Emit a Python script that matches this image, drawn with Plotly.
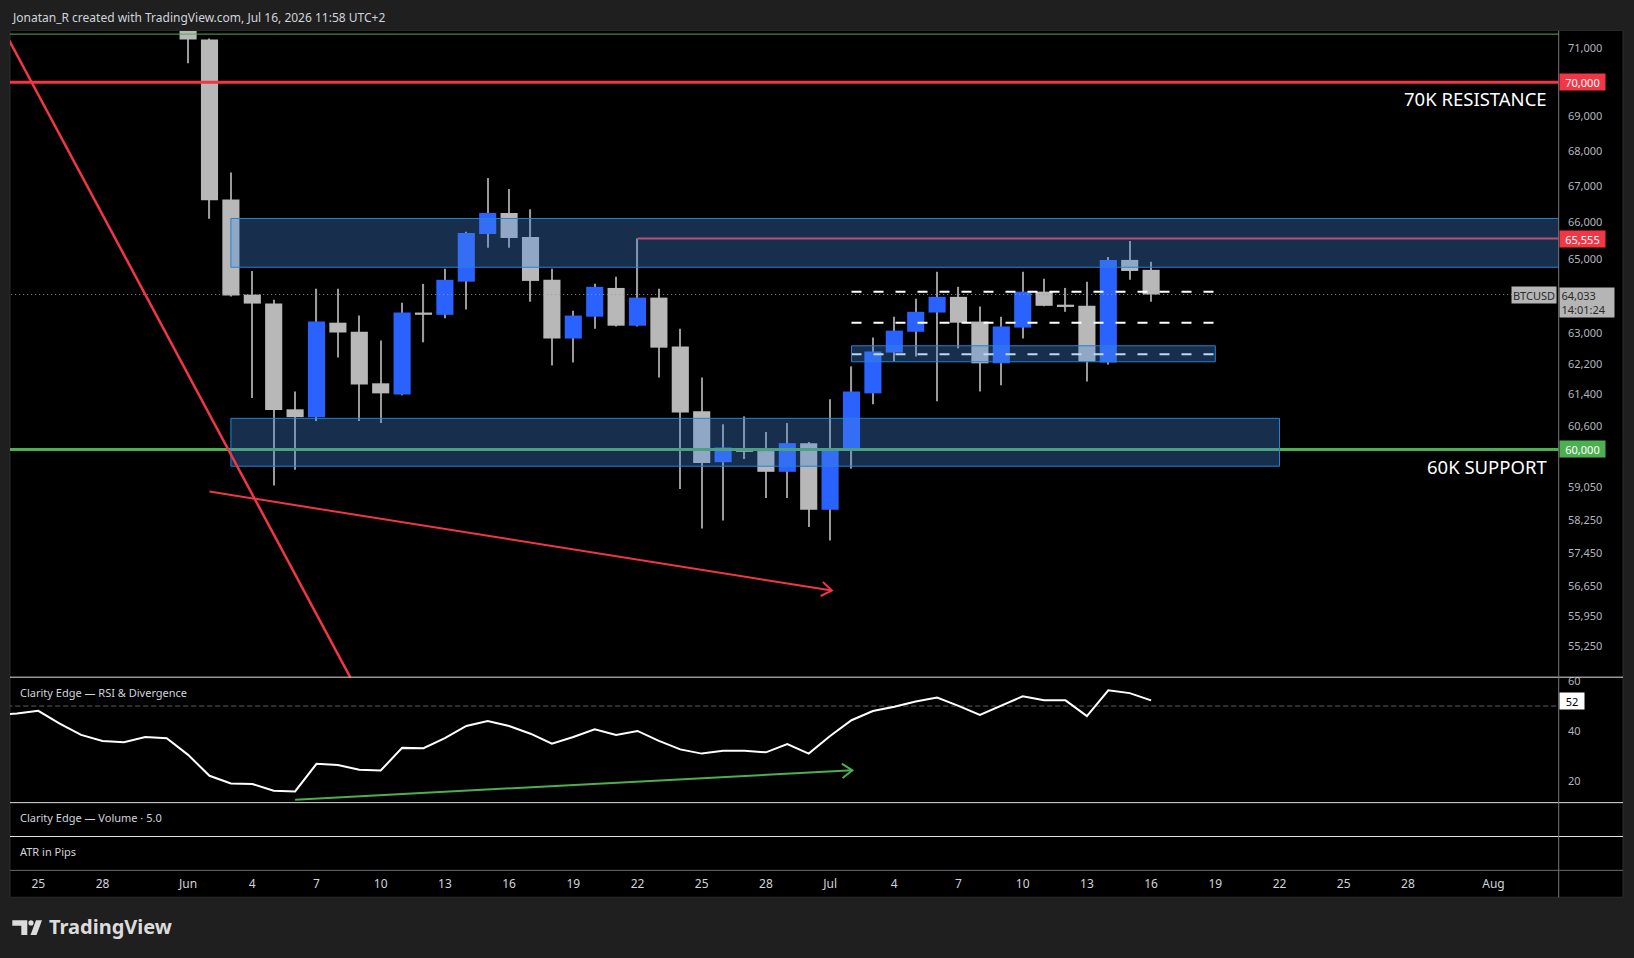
import numpy as np
import pandas as pd
import plotly.graph_objects as go

W, H = 1634, 958

# ---------------- data ----------------
candle_dates = pd.date_range("2026-06-01", "2026-07-16", freq="D")
opens = [71900, 71270, 66640, 64030, 63790, 61020, 60820, 63280, 63040, 61690,
         61400, 63550, 63490, 64380, 65680, 66260, 65600, 64430, 62860, 63440,
         64210, 63200, 63950, 62650, 60970, 59680, 59990, 59960, 59440, 60160,
         58500, 60030, 61430, 62490, 63040, 63550, 63970, 63310, 62210, 63150,
         64110, 63760, 63730, 62230, 64970, 64700]
highs = [72100, 71300, 67400, 64670, 63890, 61480, 64190, 64190, 63470, 62810,
         63810, 64320, 64730, 65740, 67240, 66930, 66370, 64730, 63600, 64320,
         64510, 65555, 64190, 63120, 61840, 60640, 60840, 60440, 60670, 60190,
         61280, 62130, 62890, 63440, 63920, 64650, 64240, 63710, 63440, 64650,
         64460, 64210, 64380, 65050, 65490, 64920]
lows = [70560, 66100, 63980, 61310, 59100, 59490, 60720, 62360, 60720, 60670,
        61380, 62760, 63400, 63630, 65300, 65300, 63840, 62150, 62230, 63120,
        63180, 63180, 61840, 59010, 58040, 58240, 59760, 58790, 58790, 58080,
        57750, 59520, 61150, 62260, 62390, 61230, 62600, 61480, 61640, 62860,
        63720, 63570, 61740, 62180, 64430, 63840]
closes = [71270, 66620, 64010, 63790, 61000, 60820, 63310, 63020, 61660, 61430,
          63550, 63490, 64430, 65710, 66260, 65570, 64400, 62860, 63470, 64240,
          63200, 63950, 62620, 60940, 59660, 60050, 59960, 59440, 60160, 58500,
          59960, 61480, 62520, 63070, 63570, 63970, 63280, 62210, 63180, 64110,
          63730, 63700, 62260, 64970, 64670, 64033]

rsi_dates = pd.date_range("2026-05-23", "2026-07-16", freq="D")
rsi_values = [46.5, 47.0, 48.1, 42.9, 38.4, 36.0, 35.5, 37.6, 37.1,
              30.4, 22.0, 18.9, 18.7, 16.0, 15.7, 26.8, 26.3, 24.4, 24.1,
              33.2, 33.1, 37.1, 42.0, 44.0, 42.0, 38.9, 34.9, 37.6, 40.7,
              38.4, 40.0, 36.0, 32.6, 30.9, 32.0, 32.0, 31.4, 34.7, 30.9,
              38.0, 44.3, 48.0, 49.7, 51.8, 53.4, 50.1, 46.4, 50.3, 53.9,
              52.3, 52.3, 46.0, 56.3, 55.2, 52.3]
rsi_last = 52

price_ticks = [71000, 69000, 68000, 67000, 66000, 65000, 63000,
               62200, 61400, 60600, 59050, 58250, 57450, 56650, 55950, 55250]
rsi_ticks = [20, 40, 60]
time_tick_dates = ["2026-05-25", "2026-05-28", "2026-06-01", "2026-06-04", "2026-06-07",
                   "2026-06-10", "2026-06-13", "2026-06-16", "2026-06-19", "2026-06-22",
                   "2026-06-25", "2026-06-28", "2026-07-01", "2026-07-04", "2026-07-07",
                   "2026-07-10", "2026-07-13", "2026-07-16", "2026-07-19", "2026-07-22",
                   "2026-07-25", "2026-07-28", "2026-08-01"]
time_tick_labels = ["25", "28", "Jun", "4", "7", "10", "13", "16", "19", "22", "25", "28",
                    "Jul", "4", "7", "10", "13", "16", "19", "22", "25", "28", "Aug"]

resistance = 70000
support = 60000
top_level = 71430
swing_high = 65555
swing_high_date = "2026-06-22"
last_price = 64033
last_time = "14:01:24"
symbol = "BTCUSD"

upper_zone = dict(d0="2026-06-03", d1="2026-08-10", lo=64770, hi=66110)
lower_zone = dict(d0="2026-06-03", d1="2026-07-22", lo=59580, hi=60790)
inner_zone = dict(d0="2026-07-02", d1="2026-07-19", lo=62250, hi=62670)
dashed_levels = [64110, 63280, 62450]
dashed_span = ("2026-07-02", "2026-07-19")

steep_trend = [("2026-05-23 00:00", 72010), ("2026-06-09 12:00", 53690)]
down_arrow = [("2026-06-02 00:00", 58950), ("2026-07-01 02:00", 56550)]
rsi_div_arrow = [("2026-06-06 00:00", 12.4), ("2026-07-02 01:00", 24.2)]

# ---------------- geometry of the panes ----------------
X_LEFT, X_RIGHT, PANEL_RIGHT = 10.0, 1558.7, 1623.0
P_TOP, P_BOT = 27.0, 676.0
R_TOP, R_BOT = 676.0, 802.0
V_BOT, A_BOT, T_BOT = 836.0, 870.0, 897.0
EPOCH = pd.Timestamp("2026-05-25")
PX_PER_DAY = 21.4
x_start = EPOCH + pd.Timedelta(days=(X_LEFT - 38.3) / PX_PER_DAY)
x_end = EPOCH + pd.Timedelta(days=(X_RIGHT - 38.3) / PX_PER_DAY)
price_range = [54530, 71527]
rsi_range = [11.2, 61.6]
DAY_MS = 86400000

BLUE = "#2962ff"
GRAY = "#b8b8b8"
WICK = "#9a9a9a"
RED = "#f23645"
GREEN = "#4caf50"
ZONE_FILL = "rgba(71,135,226,0.34)"
ZONE_LINE = "#2184d6"
FONT = "Noto Sans"


def px_of(d, v, pane):
    t = (pd.Timestamp(d) - x_start) / (x_end - x_start)
    px = X_LEFT + t * (X_RIGHT - X_LEFT)
    if pane == "price":
        lo, hi = np.log10(price_range)
        f = (np.log10(v) - lo) / (hi - lo)
        top, bot = P_TOP, P_BOT
    else:
        lo, hi = rsi_range
        f = (v - lo) / (hi - lo)
        top, bot = R_TOP, R_BOT
    return px, bot - f * (bot - top)


def data_of(px, py_, pane):
    t = (px - X_LEFT) / (X_RIGHT - X_LEFT)
    d = x_start + (x_end - x_start) * t
    if pane == "price":
        lo, hi = np.log10(price_range)
        f = (P_BOT - py_) / (P_BOT - P_TOP)
        v = 10 ** (lo + f * (hi - lo))
    else:
        lo, hi = rsi_range
        f = (R_BOT - py_) / (R_BOT - R_TOP)
        v = lo + f * (hi - lo)
    return d, v


def chevron(p0, p1, pane, length=12.5, ang=35):
    x0, y0 = px_of(*p0, pane)
    x1, y1 = px_of(*p1, pane)
    n = np.hypot(x1 - x0, y1 - y0)
    ux, uy = (x1 - x0) / n, (y1 - y0) / n
    pts = []
    for s in (1, -1):
        a = np.radians(ang) * s
        rx = -ux * np.cos(a) + uy * np.sin(a)
        ry = -ux * np.sin(a) - uy * np.cos(a)
        pts.append(data_of(x1 + length * rx, y1 + length * ry, pane))
    xs = [pts[0][0], pd.Timestamp(p1[0]), pts[1][0]]
    ys = [pts[0][1], p1[1], pts[1][1]]
    return xs, ys


fig = go.Figure()

# ---------------- candles ----------------
up = [c > o for o, c in zip(opens, closes)]
body_colors = [BLUE if u else GRAY for u in up]
body_base = [min(o, c) for o, c in zip(opens, closes)]
body_len = [abs(c - o) for o, c in zip(opens, closes)]
wick_len = [h - l for h, l in zip(highs, lows)]

fig.add_trace(go.Bar(x=candle_dates, y=wick_len, base=lows, width=DAY_MS * 0.055,
                     marker=dict(color=WICK, line=dict(width=0)),
                     xaxis="x", yaxis="y", hoverinfo="skip", showlegend=False))
fig.add_trace(go.Bar(x=candle_dates, y=body_len, base=body_base, width=DAY_MS * 0.8,
                     marker=dict(color=body_colors, line=dict(width=0)),
                     xaxis="x", yaxis="y", hoverinfo="skip", showlegend=False))

far_left = x_start - pd.Timedelta(days=2)
far_right = x_end + pd.Timedelta(days=2)


def level(price, d0, d1, color, width, dash="solid"):
    fig.add_trace(go.Scatter(x=[d0, d1], y=[price, price], mode="lines",
                             line=dict(color=color, width=width, dash=dash),
                             xaxis="x", yaxis="y", hoverinfo="skip", showlegend=False))


def zone(z):
    fig.add_trace(go.Scatter(x=[z["d0"], z["d1"], z["d1"], z["d0"], z["d0"]],
                             y=[z["lo"], z["lo"], z["hi"], z["hi"], z["lo"]],
                             mode="lines", fill="toself", fillcolor=ZONE_FILL,
                             line=dict(color=ZONE_LINE, width=1),
                             xaxis="x", yaxis="y", hoverinfo="skip", showlegend=False))


level(top_level, far_left, far_right, GREEN, 1)
level(resistance, far_left, far_right, RED, 3)
level(support, far_left, far_right, GREEN, 3)
level(swing_high, swing_high_date, far_right, RED, 2)
for lv in dashed_levels:
    level(lv, dashed_span[0], dashed_span[1], "#ffffff", 2, "10px,12px")

zone(upper_zone)
zone(lower_zone)
zone(inner_zone)

level(last_price, far_left, far_right, "#9a9a9a", 1, "1px,3px")

# trend lines
fig.add_trace(go.Scatter(x=[p[0] for p in steep_trend], y=[p[1] for p in steep_trend],
                         mode="lines", line=dict(color=RED, width=2.5),
                         xaxis="x", yaxis="y", hoverinfo="skip", showlegend=False))
fig.add_trace(go.Scatter(x=[p[0] for p in down_arrow], y=[p[1] for p in down_arrow],
                         mode="lines", line=dict(color=RED, width=2),
                         xaxis="x", yaxis="y", hoverinfo="skip", showlegend=False))
cx, cy = chevron(down_arrow[0], down_arrow[1], "price")
fig.add_trace(go.Scatter(x=cx, y=cy, mode="lines", line=dict(color=RED, width=2),
                         xaxis="x", yaxis="y", hoverinfo="skip", showlegend=False))

# ---------------- RSI pane ----------------
fig.add_trace(go.Scatter(x=[far_left, far_right], y=[50, 50], mode="lines",
                         line=dict(color="#5d606b", width=1, dash="5px,3px"),
                         xaxis="x2", yaxis="y2", hoverinfo="skip", showlegend=False))
fig.add_trace(go.Scatter(x=rsi_dates, y=rsi_values, mode="lines",
                         line=dict(color="#ffffff", width=2),
                         xaxis="x2", yaxis="y2", hoverinfo="skip", showlegend=False))
fig.add_trace(go.Scatter(x=[p[0] for p in rsi_div_arrow], y=[p[1] for p in rsi_div_arrow],
                         mode="lines", line=dict(color=GREEN, width=2),
                         xaxis="x2", yaxis="y2", hoverinfo="skip", showlegend=False))
cx, cy = chevron(rsi_div_arrow[0], rsi_div_arrow[1], "rsi")
fig.add_trace(go.Scatter(x=cx, y=cy, mode="lines", line=dict(color=GREEN, width=2),
                         xaxis="x2", yaxis="y2", hoverinfo="skip", showlegend=False))

# dummy trace for the time axis subplot
fig.add_trace(go.Scatter(x=[x_start], y=[0.5], mode="markers", marker=dict(opacity=0),
                         xaxis="x3", yaxis="y3", hoverinfo="skip", showlegend=False))

# ---------------- layout ----------------
xdom = [X_LEFT / W, X_RIGHT / W]
tick_font = dict(family=FONT, size=11, color="#b2b5be")
common_x = dict(domain=xdom, range=[x_start, x_end], type="date", showgrid=False,
                zeroline=False, showline=False, fixedrange=True)

fig.update_layout(
    width=W, height=H, margin=dict(l=0, r=0, t=0, b=0),
    paper_bgcolor="#1f1f1f", plot_bgcolor="rgba(0,0,0,0)",
    barmode="overlay", showlegend=False, hovermode=False,
    font=dict(family=FONT, color="#d1d4dc"),
    xaxis=dict(common_x, anchor="y", showticklabels=False),
    yaxis=dict(domain=[1 - P_BOT / H, 1 - P_TOP / H], type="log",
               range=list(np.log10(price_range)), side="right", anchor="x",
               tickvals=price_ticks, ticktext=[f"{v:,}" for v in price_ticks],
               tickfont=tick_font, ticks="outside", ticklen=6,
               tickcolor="rgba(0,0,0,0)", showgrid=False, zeroline=False, fixedrange=True),
    xaxis2=dict(common_x, anchor="y2", showticklabels=False),
    yaxis2=dict(domain=[1 - R_BOT / H, 1 - R_TOP / H], range=rsi_range, side="right",
                anchor="x2", tickvals=rsi_ticks, ticktext=[str(v) for v in rsi_ticks],
                tickfont=tick_font, ticks="outside", ticklen=6,
                tickcolor="rgba(0,0,0,0)", showgrid=False, zeroline=False, fixedrange=True),
    xaxis3=dict(common_x, anchor="y3", showticklabels=True,
                tickvals=time_tick_dates, ticktext=time_tick_labels,
                tickfont=dict(family=FONT, size=12, color="#d1d4dc"),
                ticks="outside", ticklen=2, tickcolor="rgba(0,0,0,0)"),
    yaxis3=dict(domain=[1 - A_BOT / H, 1 - V_BOT / H], range=[0, 1], visible=False,
                anchor="x3", fixedrange=True),
)


def py(y):
    return 1 - y / H


shapes = [
    dict(type="rect", xref="paper", yref="paper", x0=X_LEFT / W, x1=PANEL_RIGHT / W,
         y0=py(T_BOT), y1=py(26.5), fillcolor="#000000",
         line=dict(color="#2c2c2c", width=1), layer="below"),
]
for yy, col in [(P_BOT, "#e0e0e0"), (R_BOT, "#e0e0e0"), (V_BOT, "#e0e0e0"), (A_BOT, "#6a6a6a")]:
    shapes.append(dict(type="line", xref="paper", yref="paper", x0=X_LEFT / W,
                       x1=PANEL_RIGHT / W, y0=py(yy), y1=py(yy),
                       line=dict(color=col, width=1), layer="above"))
shapes.append(dict(type="line", xref="paper", yref="paper", x0=X_RIGHT / W, x1=X_RIGHT / W,
                   y0=py(T_BOT), y1=py(P_TOP), line=dict(color="#787878", width=1),
                   layer="above"))


def pp(x, y):
    return f"{x / W:.5f},{py(y):.5f}"


LOGO = "#dcdcdc"
shapes.append(dict(type="path", xref="paper", yref="paper",
                   path=f"M{pp(12.3, 920)} L{pp(27.3, 920)} L{pp(27.3, 935)} L{pp(21.3, 935)} "
                        f"L{pp(21.3, 925.7)} L{pp(12.3, 925.7)} Z",
                   fillcolor=LOGO, line=dict(width=0)))
shapes.append(dict(type="circle", xref="paper", yref="paper", x0=28.4 / W, x1=33.6 / W,
                   y0=py(925.4), y1=py(920.2), fillcolor=LOGO, line=dict(width=0)))
shapes.append(dict(type="path", xref="paper", yref="paper",
                   path=f"M{pp(30.5, 935)} L{pp(36.5, 935)} L{pp(42.0, 920)} L{pp(36.0, 920)} Z",
                   fillcolor=LOGO, line=dict(width=0)))
fig.update_layout(shapes=shapes)

ann = []
ann.append(dict(xref="paper", yref="paper", x=9.6 / W, y=py(13.5), xanchor="left",
                yanchor="middle", showarrow=False,
                text="Jonatan_R created with TradingView.com, Jul 16, 2026 11:58 UTC+2",
                font=dict(family=FONT, size=12, color="#d1d4dc")))
ann.append(dict(xref="paper", yref="y", x=1549 / W, y=np.log10(resistance), xanchor="right",
                yanchor="top", yshift=-2, showarrow=False, text="70K RESISTANCE",
                font=dict(family=FONT, size=18.5, color="#ffffff")))
ann.append(dict(xref="paper", yref="y", x=1549 / W, y=np.log10(support), xanchor="right",
                yanchor="top", yshift=-3, showarrow=False, text="60K SUPPORT",
                font=dict(family=FONT, size=18.5, color="#ffffff")))
for price, bg in [(resistance, RED), (swing_high, RED), (support, GREEN)]:
    ann.append(dict(xref="paper", yref="y", x=X_RIGHT / W, y=np.log10(price),
                    xanchor="left", yanchor="middle", xshift=0.5, showarrow=False,
                    text=f"{price:,}", bgcolor=bg, width=43, height=14, borderpad=1,
                    font=dict(family=FONT, size=11, color="#ffffff")))
ann.append(dict(xref="paper", yref="y", x=X_RIGHT / W, y=np.log10(last_price),
                xanchor="left", yanchor="top", yshift=8, xshift=0.5, showarrow=False,
                text=f"{last_price:,}<br>{last_time}", align="left", bgcolor="#b5b5b5",
                width=51, height=26, borderpad=1.5,
                font=dict(family=FONT, size=11, color="#2a2a2a")))
ann.append(dict(xref="paper", yref="y", x=X_RIGHT / W, y=np.log10(last_price),
                xanchor="right", yanchor="middle", xshift=-1.5, showarrow=False,
                text=symbol, bgcolor="#b5b5b5", width=42, height=14, borderpad=1,
                font=dict(family=FONT, size=11, color="#2a2a2a")))
ann.append(dict(xref="paper", yref="y2", x=X_RIGHT / W, y=rsi_last, xanchor="left",
                yanchor="middle", xshift=0.5, showarrow=False, text=str(rsi_last),
                bgcolor="#ffffff", width=22, height=14, borderpad=1,
                font=dict(family=FONT, size=11, color="#000000")))
for txt, yy in [("Clarity Edge — RSI &amp; Divergence", 691.3),
                ("Clarity Edge — Volume · 5.0", 816.7),
                ("ATR in Pips", 851.0)]:
    ann.append(dict(xref="paper", yref="paper", x=17.5 / W, y=py(yy), xanchor="left",
                    yanchor="middle", showarrow=False, text=txt,
                    font=dict(family=FONT, size=11, color="#d1d4dc")))
ann.append(dict(xref="paper", yref="paper", x=47 / W, y=py(926.5), xanchor="left",
                yanchor="middle", showarrow=False, text="<b>TradingView</b>",
                font=dict(family=FONT, size=20, color=LOGO)))
fig.update_layout(annotations=ann)

fig.write_html("out.html")
